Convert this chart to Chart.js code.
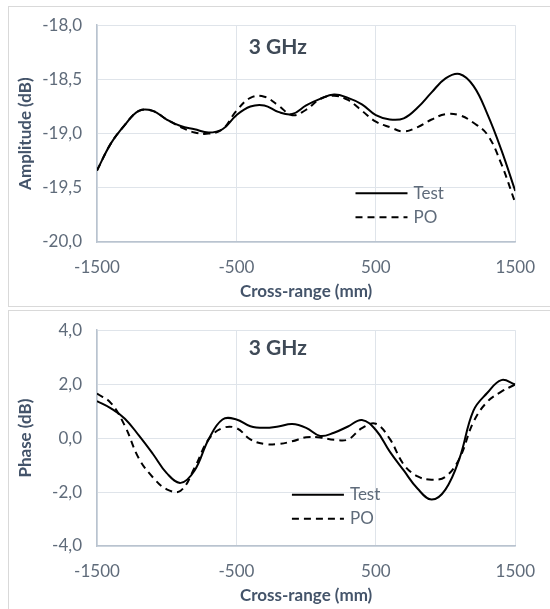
<!DOCTYPE html>
<html>
<head>
<meta charset="utf-8">
<script src="https://cdn.jsdelivr.net/npm/chart.js@4/dist/chart.umd.min.js"></script>
<style>
  body { margin: 0; background: #fff; width: 550px; height: 609px; overflow: hidden; position: relative; }
  .panel { position: absolute; left: 8px; width: 560px; border: 1px solid #d9d9d9; background: #fff; }
  canvas { position: absolute; left: 0; }
</style>
</head>
<body>
<div class="panel" style="top:6px;height:299px"></div>
<div class="panel" style="top:310px;height:320px"></div>
<canvas id="ampChart" width="550" height="305" style="top:0"></canvas>
<canvas id="phaseChart" width="550" height="304" style="top:305px"></canvas>
<script>
// cross-range positions (mm)
const crossRange = [-1500,-1400,-1300,-1200,-1100,-1000,-900,-800,-700,-600,-500,-400,-300,-200,-100,0,
  100,200,300,400,500,600,700,800,900,1000,1100,1200,1300,1400,1500];

// Amplitude (dB)
const ampTest = [-19.34,-19.09,-18.92,-18.79,-18.79,-18.87,-18.93,-18.96,-18.99,-18.96,-18.83,-18.75,-18.74,-18.80,-18.82,-18.74,
  -18.68,-18.64,-18.67,-18.73,-18.83,-18.87,-18.86,-18.76,-18.62,-18.49,-18.45,-18.56,-18.82,-19.15,-19.53];
const ampPO = [-19.34,-19.09,-18.92,-18.79,-18.79,-18.87,-18.94,-18.99,-19.00,-18.96,-18.79,-18.67,-18.66,-18.74,-18.83,-18.78,
  -18.68,-18.65,-18.69,-18.79,-18.89,-18.94,-18.98,-18.94,-18.87,-18.82,-18.83,-18.90,-19.01,-19.28,-19.64];

// Phase
const phaseTest = [1.37,1.10,0.72,0.10,-0.58,-1.30,-1.66,-1.20,-0.05,0.69,0.69,0.44,0.38,0.43,0.52,0.38,
  0.08,0.20,0.43,0.67,0.30,-0.50,-1.20,-1.88,-2.28,-1.90,-0.75,1.02,1.68,2.15,1.99];
const phasePO = [1.65,1.30,0.45,-0.75,-1.45,-1.90,-1.95,-1.10,-0.05,0.37,0.37,-0.05,-0.22,-0.22,-0.12,0.03,
  0.02,-0.06,-0.05,0.37,0.53,-0.03,-0.98,-1.42,-1.54,-1.43,-0.75,0.60,1.35,1.72,1.99];

const seriesNames = ["Test", "PO"];
const freqLabel = "3 GHz";

const FONT = "Lato, 'Open Sans', sans-serif";

// draws "3 GHz" and the legend inside the plot area
const insidePlugin = {
  id: "inside",
  afterDraw(chart, args, opts) {
    const ctx = chart.ctx, a = chart.chartArea;
    ctx.save();
    ctx.fillStyle = "#3f4a57";
    ctx.font = "bold 21px " + FONT;
    ctx.textBaseline = "middle";
    ctx.textAlign = "left";
    ctx.fillText(freqLabel, a.left + opts.titleX * a.width, a.top + opts.titleY * a.height);

    const lx = a.left + opts.legX * a.width;
    let ly = a.top + opts.legY * a.height;
    chart.data.datasets.forEach(ds => {
      ctx.beginPath();
      ctx.strokeStyle = ds.borderColor;
      ctx.lineWidth = 2;
      ctx.setLineDash(ds.borderDash || []);
      ctx.moveTo(lx, ly);
      ctx.lineTo(lx + 52, ly);
      ctx.stroke();
      ctx.setLineDash([]);
      ctx.fillStyle = "#5f6b7a";
      ctx.font = "17px " + FONT;
      ctx.fillText(ds.label, lx + 58, ly);
      ly += 24;
    });
    ctx.restore();
  }
};

function makeChart(id, testVals, poVals, yMin, yMax, yStep, yTitle, inside) {
  return new Chart(id, {
    type: "line",
    data: {
      datasets: [{
        label: seriesNames[0],
        data: testVals.map((v, i) => ({x: crossRange[i], y: v})),
        borderColor: "#000000",
        borderWidth: 2,
        pointRadius: 0,
        tension: 0.4
      }, {
        label: seriesNames[1],
        data: poVals.map((v, i) => ({x: crossRange[i], y: v})),
        borderColor: "#000000",
        borderWidth: 2,
        borderDash: [7, 5],
        pointRadius: 0,
        tension: 0.4
      }]
    },
    options: {
      responsive: false,
      animation: false,
      layout: { padding: { top: 20, right: 32, left: 0, bottom: 0 } },
      plugins: {
        legend: { display: false },
        tooltip: { enabled: false },
        inside: inside
      },
      scales: {
        x: {
          type: "linear",
          min: -1500, max: 1500,
          ticks: { stepSize: 1000, color: "#5f6b7a", font: { size: 17, family: FONT }, padding: 15,
                   callback: v => String(v) },
          grid: { color: "#dfe4ea", drawTicks: false },
          border: { color: "#b9c3cf", width: 1.5 },
          title: { display: true, text: "Cross-range (mm)", color: "#44546a",
                   font: { size: 17, weight: "bold", family: FONT }, padding: { top: 0, bottom: 3 } },
          afterFit(scale) { scale.height = 63; }
        },
        y: {
          min: yMin, max: yMax,
          ticks: { stepSize: yStep, color: "#5f6b7a", font: { size: 17, family: FONT }, padding: 15,
                   callback: v => v.toFixed(1).replace(".", ",") },
          grid: { color: "#dfe4ea", drawTicks: false },
          border: { color: "#b9c3cf", width: 1.5 },
          title: { display: true, text: yTitle, color: "#44546a",
                   font: { size: 17, weight: "bold", family: FONT }, padding: { top: 15, bottom: 0 } },
          afterFit(scale) { scale.width = 97; }
        }
      }
    },
    plugins: [insidePlugin]
  });
}

makeChart("ampChart", ampTest, ampPO, -20, -18, 0.5, "Amplitude (dB)",
  { titleX: 0.363, titleY: 0.1, legX: 0.618, legY: 0.775 });
makeChart("phaseChart", phaseTest, phasePO, -4, 4, 2, "Phase (dB)",
  { titleX: 0.363, titleY: 0.085, legX: 0.466, legY: 0.762 });
</script>
</body>
</html>
